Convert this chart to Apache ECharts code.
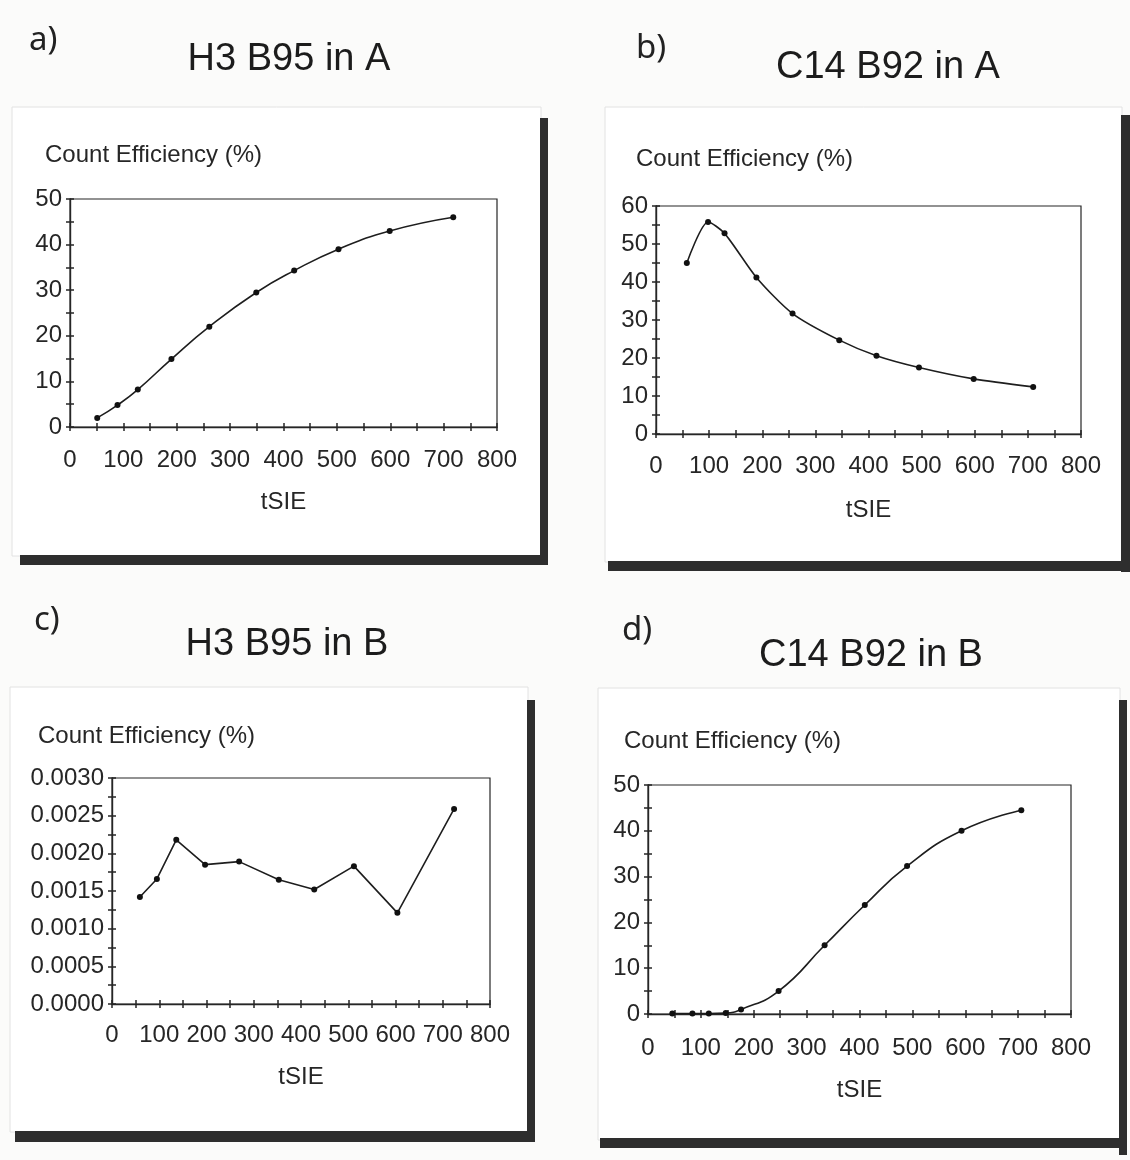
<!DOCTYPE html>
<html>
<head>
<meta charset="utf-8">
<title>Count efficiency vs tSIE</title>
<script src="https://cdn.jsdelivr.net/npm/echarts@6/dist/echarts.min.js"></script>
<style>
  html, body { margin: 0; padding: 0; background: #fbfbfa; }
  #chart { width: 1130px; height: 1160px; }
</style>
</head>
<body>
<div id="chart"></div>
<script>
// a) H3 B95 in A
var tsieA = [51, 89, 127, 190, 261, 349, 420, 503, 599, 718];
var effA  = [2.0, 4.8, 8.2, 14.9, 22.0, 29.5, 34.3, 39.0, 43.0, 46.0];
// b) C14 B92 in A
var tsieB = [58, 98, 129, 189, 257, 345, 415, 495, 598, 710];
var effB  = [45.0, 55.8, 52.8, 41.2, 31.7, 24.7, 20.6, 17.5, 14.5, 12.4];
// c) H3 B95 in B
var tsieC = [59, 95, 136, 197, 269, 353, 428, 512, 604, 724];
var effC  = [0.00142, 0.00166, 0.00218, 0.00185, 0.00189, 0.00165, 0.00152, 0.00183, 0.00121, 0.00259];
// d) C14 B92 in B
var tsieD = [46, 84, 115, 147, 176, 247, 334, 410, 490, 593, 706];
var effD  = [0.1, 0.1, 0.1, 0.2, 1.0, 5.0, 15.0, 23.8, 32.3, 40.0, 44.5];

var letters = ['a)', 'b)', 'c)', 'd)'];
var titles = ['H3 B95 in A', 'C14 B92 in A', 'H3 B95 in B', 'C14 B92 in B'];
var xMax = 800, xStep = 50;
var yMax = [50, 60, 0.003, 50];
var yStep = [5, 5, 0.00025, 5];
var yDigits = [0, 0, 4, 0];
var smoothing = [0.5, 0.25, false, 0.5];

var xs = [tsieA, tsieB, tsieC, tsieD];
var ys = [effA, effB, effC, effD];

// layout of each panel (pixels)
var panels = [
  {grid: {left: 70, top: 199, width: 427, height: 228}, labelMargin: 21, nameGap: 63,
   box: [12, 107, 529, 449], right: [540, 118, 8, 447], bottom: [20, 555, 528, 10],
   letter: [29, 24], title: [284, 36], yName: [45, 143]},
  {grid: {left: 656, top: 206, width: 425, height: 228}, labelMargin: 20, nameGap: 64,
   box: [605, 107, 517, 455], right: [1121, 115, 9, 457], bottom: [608, 561, 522, 10],
   letter: [636, 32], title: [883, 44], yName: [636, 147]},
  {grid: {left: 112, top: 778, width: 378, height: 226}, labelMargin: 19, nameGap: 61,
   box: [10, 687, 518, 445], right: [527, 700, 8, 442], bottom: [15, 1131, 520, 11],
   letter: [34, 604], title: [282, 621], yName: [38, 724]},
  {grid: {left: 648, top: 785, width: 423, height: 229}, labelMargin: 22, nameGap: 64,
   box: [598, 688, 522, 452], right: [1119, 700, 8, 455], bottom: [600, 1138, 527, 10],
   letter: [622, 614], title: [866, 632], yName: [624, 729]}
];

var ink = '#262626';
var tickFont = {fontFamily: 'Liberation Sans, Arial, sans-serif', fontSize: 24, color: ink};

var grid = [], xAxis = [], yAxis = [], series = [], title = [], graphic = [];

panels.forEach(function (p, i) {
  var gi = grid.length;
  grid.push(Object.assign({show: true, borderColor: ink, borderWidth: 1.2, backgroundColor: 'transparent'}, p.grid));

  var step = yStep[i];
  var digits = yDigits[i];

  // main axes with outward ticks and labels
  xAxis.push({
    type: 'value', gridIndex: gi, position: 'bottom', min: 0, max: xMax, interval: xStep,
    name: 'tSIE', nameLocation: 'middle', nameGap: p.nameGap,
    nameTextStyle: {fontFamily: 'Liberation Sans, Arial, sans-serif', fontSize: 24, color: ink},
    axisLine: {onZero: false, lineStyle: {color: ink, width: 1.4}},
    axisTick: {show: true, length: 4, lineStyle: {color: ink, width: 1.5}},
    axisLabel: Object.assign({margin: p.labelMargin, formatter: function (v) {
      return Math.round(v) % 100 === 0 ? String(Math.round(v)) : '';
    }}, tickFont),
    splitLine: {show: false}
  });
  yAxis.push({
    type: 'value', gridIndex: gi, position: 'left', min: 0, max: yMax[i], interval: step,
    axisLine: {onZero: false, lineStyle: {color: ink, width: 1.4}},
    axisTick: {show: true, length: 4, lineStyle: {color: ink, width: 1.5}},
    axisLabel: Object.assign({margin: 8, formatter: function (v) {
      return Math.round(v / step) % 2 === 0 ? v.toFixed(digits) : '';
    }}, tickFont),
    splitLine: {show: false}
  });
  // twin axes give the ticks that cross the axis line
  xAxis.push({
    type: 'value', gridIndex: gi, position: 'bottom', min: 0, max: xMax, interval: xStep,
    axisLine: {show: false, onZero: false},
    axisTick: {show: true, inside: true, length: 4, lineStyle: {color: ink, width: 1.5}},
    axisLabel: {show: false}, splitLine: {show: false}
  });
  yAxis.push({
    type: 'value', gridIndex: gi, position: 'left', min: 0, max: yMax[i], interval: step,
    axisLine: {show: false, onZero: false},
    axisTick: {show: true, inside: true, length: 4, lineStyle: {color: ink, width: 1.5}},
    axisLabel: {show: false}, splitLine: {show: false}
  });

  series.push({
    type: 'line', name: titles[i],
    xAxisIndex: 2 * i, yAxisIndex: 2 * i,
    data: xs[i].map(function (x, k) { return [x, ys[i][k]]; }),
    smooth: smoothing[i],
    symbol: 'circle', symbolSize: 6,
    itemStyle: {color: '#111'},
    lineStyle: {color: '#1e1e1e', width: 1.6},
    animation: false
  });

  title.push({
    text: titles[i], left: p.title[0], top: p.title[1], textAlign: 'center',
    textStyle: {fontFamily: 'Liberation Sans, Arial, sans-serif', fontSize: 38, fontWeight: 'normal', color: '#1c1c1c'}
  });

  // frame with heavy shadow on right and bottom
  graphic.push({type: 'rect', z: -10, shape: {x: p.box[0], y: p.box[1], width: p.box[2], height: p.box[3]},
    style: {fill: '#ffffff', stroke: '#e2e2e2', lineWidth: 1}});
  graphic.push({type: 'rect', z: -9, shape: {x: p.right[0], y: p.right[1], width: p.right[2], height: p.right[3]},
    style: {fill: '#2e2e2e'}});
  graphic.push({type: 'rect', z: -9, shape: {x: p.bottom[0], y: p.bottom[1], width: p.bottom[2], height: p.bottom[3]},
    style: {fill: '#2e2e2e'}});
  graphic.push({type: 'text', left: p.letter[0], top: p.letter[1],
    style: {text: letters[i], fontFamily: 'Noto Sans, Open Sans, sans-serif', fontSize: 33, fill: '#222'}});
  graphic.push({type: 'text', left: p.yName[0], top: p.yName[1],
    style: {text: 'Count Efficiency (%)', fontFamily: 'Liberation Sans, Arial, sans-serif', fontSize: 24, fill: ink}});
});

var chart = echarts.init(document.getElementById('chart'));
chart.setOption({
  backgroundColor: '#fbfbfa',
  animation: false,
  title: title,
  grid: grid,
  xAxis: xAxis,
  yAxis: yAxis,
  series: series,
  graphic: graphic
});
</script>
</body>
</html>
